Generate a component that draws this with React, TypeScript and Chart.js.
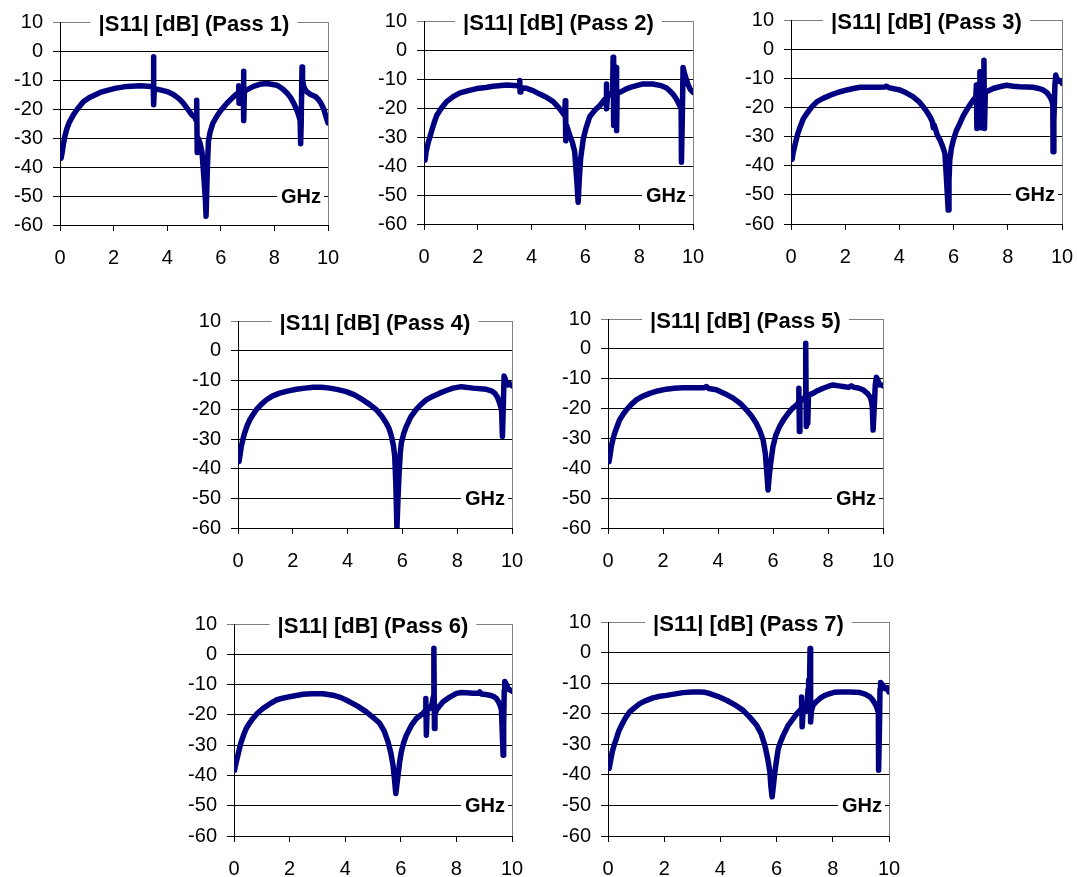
import React, { useEffect, useRef } from 'react';
import { Chart, registerables } from 'chart.js';

Chart.register(...registerables);

const FONT = '"Liberation Sans", Arial, sans-serif';

// Tick values / labels
const yTickValues = [-60, -50, -40, -30, -20, -10, 0, 10];
const xTickValues = [0, 2, 4, 6, 8, 10];
const passTitles = [
  '|S11| [dB] (Pass 1)',
  '|S11| [dB] (Pass 2)',
  '|S11| [dB] (Pass 3)',
  '|S11| [dB] (Pass 4)',
  '|S11| [dB] (Pass 5)',
  '|S11| [dB] (Pass 6)',
  '|S11| [dB] (Pass 7)',
];
const unitLabel = 'GHz';

// ---- Pass 1 ----
const pass1Freq = [0.04, 0.08, 0.12, 0.18, 0.25, 0.35, 0.5, 0.65, 0.87, 1.1, 1.5, 1.8, 2.1, 2.5, 3.0, 3.4, 3.48, 3.49, 3.5, 3.52, 3.74, 4.0, 4.23, 4.45, 4.6, 4.8, 4.92, 5.04, 5.08, 5.1, 5.12, 5.15, 5.23, 5.3, 5.38, 5.43, 5.45, 5.5, 5.54, 5.6, 5.7, 5.85, 6.0, 6.23, 6.45, 6.6, 6.65, 6.67, 6.68, 6.7, 6.8, 6.84, 6.85, 6.86, 6.88, 6.97, 7.22, 7.45, 7.72, 8.1, 8.3, 8.47, 8.6, 8.72, 8.82, 8.9, 8.96, 8.98, 9.0, 9.03, 9.05, 9.1, 9.2, 9.35, 9.53, 9.65, 9.75, 9.84, 9.92, 10.0];
const pass1S11 = [-37, -35, -32.5, -29.5, -27, -24.5, -22, -20, -17.5, -16, -14.3, -13.5, -12.8, -12.2, -12, -12.2, -12.5, -2, -18.5, -13, -13.4, -14, -15, -16.5, -18, -20.5, -22, -23, -24, -17, -35, -30, -32, -35, -45, -52, -57, -40, -31, -28, -25, -22.5, -20.5, -18, -16, -14.8, -14.5, -12, -18, -14, -13.8, -13.5, -7, -24, -14, -13.4, -12.2, -11.5, -11.2, -11.8, -13, -14.5, -16, -18, -20, -22, -24, -32, -25, -5.5, -10, -12.5, -14, -15, -15.7, -16.8, -18.2, -20, -22.5, -24.8];

// ---- Pass 2 ----
const pass2Freq = [0.04, 0.08, 0.16, 0.22, 0.28, 0.38, 0.47, 0.65, 0.84, 1.1, 1.34, 1.65, 1.96, 2.3, 2.57, 3.07, 3.5, 3.55, 3.56, 3.57, 3.6, 3.81, 4.05, 4.3, 4.55, 4.8, 5.0, 5.1, 5.23, 5.25, 5.27, 5.3, 5.42, 5.52, 5.6, 5.68, 5.73, 5.77, 5.82, 5.92, 6.02, 6.16, 6.35, 6.53, 6.72, 6.77, 6.78, 6.79, 6.82, 6.95, 7.01, 7.03, 7.05, 7.08, 7.13, 7.15, 7.16, 7.18, 7.28, 7.52, 7.7, 7.9, 8.14, 8.5, 8.82, 9.0, 9.13, 9.28, 9.38, 9.5, 9.56, 9.57, 9.6, 9.63, 9.68, 9.75, 9.82, 9.9, 10.0];
const pass2S11 = [-38, -35, -31.8, -30, -28, -25, -22.6, -20, -17.8, -16, -14.8, -14, -13.3, -12.9, -12.5, -12.1, -12.3, -12.5, -10.5, -14.5, -13, -13.2, -14, -15.2, -16.3, -17.8, -19.8, -21, -22.6, -17.5, -31.3, -26, -29.5, -32, -35, -45, -52.5, -45, -37.6, -30.7, -27, -23, -20.8, -19.2, -17, -16.5, -11.7, -20.3, -16, -15, -14.5, -2.5, -26, -14, -13, -6, -27.8, -15, -14.6, -13.4, -12.8, -12.3, -11.7, -11.7, -12.3, -13, -14, -15.5, -16.9, -19, -20, -38.7, -25, -6, -8, -10, -12, -13.6, -14.6];

// ---- Pass 3 ----
const pass3Freq = [0.04, 0.08, 0.16, 0.25, 0.34, 0.45, 0.59, 0.75, 0.96, 1.2, 1.45, 1.75, 2.06, 2.3, 2.55, 3.17, 3.45, 3.53, 3.6, 4.02, 4.25, 4.5, 4.7, 4.88, 5.0, 5.13, 5.22, 5.25, 5.28, 5.4, 5.5, 5.6, 5.68, 5.74, 5.8, 5.83, 5.86, 5.92, 5.99, 6.1, 6.23, 6.35, 6.48, 6.6, 6.72, 6.82, 6.84, 6.86, 6.88, 6.95, 6.97, 6.99, 7.02, 7.1, 7.12, 7.14, 7.17, 7.21, 7.46, 7.7, 7.95, 8.2, 8.44, 8.7, 8.93, 9.1, 9.3, 9.45, 9.55, 9.63, 9.66, 9.67, 9.7, 9.74, 9.77, 9.82, 9.88, 9.94, 10.0];
const pass3S11 = [-37.8, -35.5, -32.3, -29, -26.6, -24, -22, -20, -18, -16.8, -15.8, -14.8, -14, -13.5, -13.1, -13.1, -13, -12.7, -13.2, -14, -15, -16.3, -17.8, -19.8, -21.3, -23.2, -25, -27, -26, -29.5, -31.2, -33.5, -35.8, -45, -55.2, -45, -38, -34, -31.2, -28, -25.5, -23, -20.9, -19.2, -17.5, -16.5, -12.3, -27.2, -17, -15, -7.8, -27, -15, -14.5, -3.8, -27.2, -15, -14.6, -13.5, -12.9, -12.4, -12.7, -12.9, -13, -13.1, -13.4, -14, -15, -16.3, -17.8, -19, -35.2, -25, -12, -8.9, -10.3, -11, -10.8, -11.7];

// ---- Pass 4 ----
const pass4Freq = [0.04, 0.08, 0.12, 0.18, 0.24, 0.33, 0.43, 0.55, 0.67, 0.85, 1.03, 1.25, 1.52, 1.8, 2.13, 2.45, 2.74, 3.05, 3.35, 3.65, 3.95, 4.25, 4.56, 4.8, 5.05, 5.25, 5.41, 5.52, 5.6, 5.67, 5.72, 5.76, 5.8, 5.84, 5.88, 5.92, 5.96, 6.05, 6.14, 6.3, 6.5, 6.68, 6.87, 7.1, 7.36, 7.6, 7.85, 8.15, 8.58, 9.06, 9.25, 9.37, 9.47, 9.55, 9.62, 9.65, 9.68, 9.71, 9.75, 9.8, 9.85, 9.92, 10.0];
const pass4S11 = [-37.5, -35, -32.4, -30, -27.9, -25.5, -23.4, -21.6, -20, -18.2, -16.7, -15.4, -14.4, -13.7, -13.1, -12.7, -12.4, -12.4, -12.7, -13.2, -13.9, -15, -16.7, -18.2, -20, -22.2, -24.5, -26.5, -29, -32, -35.7, -45, -60, -50, -41.4, -35, -31.3, -28, -25.7, -22.5, -20, -18.2, -16.7, -15.5, -14.4, -13.5, -12.7, -12.2, -12.7, -13.1, -13.6, -14.4, -15.8, -17.8, -20, -29, -20, -8.6, -9.5, -11, -11.6, -11.2, -11.9];

// ---- Pass 5 ----
const pass5Freq = [0.04, 0.08, 0.12, 0.18, 0.24, 0.33, 0.42, 0.55, 0.67, 0.85, 1.03, 1.25, 1.52, 1.8, 2.12, 2.4, 2.73, 3.33, 3.5, 3.58, 3.66, 3.94, 4.25, 4.55, 4.8, 5.03, 5.22, 5.39, 5.52, 5.64, 5.72, 5.78, 5.82, 5.86, 5.9, 6.0, 6.1, 6.24, 6.4, 6.55, 6.7, 6.85, 6.93, 6.94, 6.96, 6.98, 7.03, 7.12, 7.18, 7.19, 7.21, 7.24, 7.26, 7.27, 7.29, 7.45, 7.62, 7.82, 8.0, 8.18, 8.4, 8.55, 8.75, 8.85, 8.95, 9.1, 9.27, 9.42, 9.52, 9.58, 9.61, 9.64, 9.68, 9.72, 9.76, 9.8, 9.88, 9.94, 10.0];
const pass5S11 = [-37.8, -35.3, -32.7, -30.3, -28.3, -26, -23.8, -21.9, -20.4, -18.6, -17.1, -15.9, -14.9, -14.1, -13.5, -13.2, -13, -13, -13, -12.6, -13.3, -13.7, -15, -16.5, -18.2, -20.4, -22.5, -24.9, -27.4, -30.5, -35, -42, -47.3, -43, -39.4, -32.7, -29, -26, -23.5, -21.6, -20, -18.8, -18, -13.2, -27.7, -18, -17, -16.5, -16, 1.9, -26, -16, -15.5, -24.9, -15.5, -14.9, -14, -13.2, -12.6, -12.1, -12.4, -12.6, -12.9, -12.4, -12.9, -13.1, -13.7, -14.8, -16, -17.5, -19.3, -27.2, -20, -12, -9.5, -10.2, -12.1, -12, -12.4];

// ---- Pass 6 ----
const pass6Freq = [0.02, 0.07, 0.14, 0.2, 0.26, 0.35, 0.44, 0.56, 0.68, 0.85, 1.04, 1.28, 1.52, 1.75, 2.0, 2.24, 2.48, 2.8, 3.2, 3.56, 3.85, 4.16, 4.46, 4.76, 5.0, 5.24, 5.4, 5.54, 5.64, 5.72, 5.77, 5.82, 5.86, 5.9, 5.96, 6.02, 6.1, 6.2, 6.38, 6.56, 6.7, 6.8, 6.88, 6.9, 6.92, 6.95, 7.04, 7.12, 7.17, 7.19, 7.21, 7.23, 7.28, 7.4, 7.52, 7.75, 8.0, 8.18, 8.36, 8.6, 8.8, 8.84, 8.9, 9.05, 9.2, 9.35, 9.44, 9.52, 9.58, 9.62, 9.68, 9.7, 9.72, 9.74, 9.8, 9.86, 9.93, 10.0];
const pass6S11 = [-38.3, -36, -33.3, -31, -28.9, -26.5, -24.5, -22.7, -21.2, -19.4, -17.9, -16.4, -15.1, -14.5, -14, -13.6, -13.2, -13, -13, -13.5, -14.3, -15.7, -17.2, -19, -20.8, -22.8, -25.3, -28.9, -32.5, -36.6, -41, -46, -43, -40, -35.5, -32.2, -29.3, -26.7, -23.5, -21.2, -20.2, -19.5, -18.5, -14.6, -26.7, -17.5, -17.9, -16.5, -14, 2, -24.5, -20, -18.4, -17, -15.7, -14.2, -12.9, -12.6, -12.7, -12.9, -12.9, -12.4, -13.1, -13.3, -13.5, -14, -14.6, -15.8, -17, -18.4, -33.3, -24, -12, -9, -10, -11.3, -11.8, -12.2];

// ---- Pass 7 ----
const pass7Freq = [0.04, 0.09, 0.15, 0.22, 0.3, 0.38, 0.48, 0.62, 0.77, 0.95, 1.13, 1.35, 1.6, 1.85, 2.08, 2.4, 2.67, 3.0, 3.27, 3.45, 3.62, 3.9, 4.22, 4.5, 4.81, 5.05, 5.29, 5.45, 5.58, 5.68, 5.76, 5.8, 5.84, 5.88, 5.94, 6.0, 6.06, 6.15, 6.24, 6.4, 6.59, 6.72, 6.83, 6.87, 6.89, 6.91, 6.94, 7.01, 7.08, 7.12, 7.13, 7.15, 7.17, 7.19, 7.21, 7.24, 7.3, 7.42, 7.54, 7.7, 7.9, 8.05, 8.25, 8.6, 8.97, 9.15, 9.32, 9.42, 9.5, 9.56, 9.6, 9.62, 9.63, 9.66, 9.68, 9.7, 9.76, 9.86, 9.93, 10.0];
const pass7S11 = [-37.9, -35.5, -32.5, -30.2, -28.1, -25.8, -23.8, -21.4, -19.4, -18, -16.7, -15.7, -14.8, -14.3, -14, -13.5, -13.1, -12.9, -12.9, -13, -13.4, -14.3, -15.6, -17, -18.9, -21.2, -23.8, -26.5, -30.3, -34.5, -39, -44, -47.2, -44, -39, -35, -31.4, -29, -27, -24, -21.6, -20, -18.9, -18.5, -14.5, -24.3, -19.5, -19.4, -18, -12, -9, -15, -12, 1.3, -22.7, -19, -17.2, -16, -15, -14.1, -13.4, -13, -12.9, -12.9, -13.1, -13.6, -14.5, -15.5, -16.7, -17.8, -19, -19.4, -38.5, -25, -12, -9.8, -10.5, -11.8, -11.5, -12.9];

const passFreqs = [pass1Freq, pass2Freq, pass3Freq, pass4Freq, pass5Freq, pass6Freq, pass7Freq];
const passValues = [pass1S11, pass2S11, pass3S11, pass4S11, pass5S11, pass6S11, pass7S11];

// Plot-area placement (page pixels): left, top, right, bottom
const plotAreas = [
  { l: 60, t: 22, r: 328, b: 225 },
  { l: 424, t: 21, r: 693, b: 224 },
  { l: 791, t: 20, r: 1062, b: 224 },
  { l: 238, t: 321, r: 512, b: 528 },
  { l: 608, t: 319, r: 883, b: 528 },
  { l: 234, t: 624, r: 512, b: 836 },
  { l: 608, t: 622, r: 889, b: 836 },
];

const PAD_T = 22;
const PAD_R = 15;
const Y_W = 60;
const X_H = 48;

const overlayPlugin = {
  id: 'overlayLabels',
  afterDraw(chart: any, _args: any, opts: any) {
    const { ctx, chartArea } = chart;
    const yScale = chart.scales.y;
    ctx.save();
    // Title on the top border
    ctx.font = `bold 22px ${FONT}`;
    ctx.textAlign = 'center';
    ctx.textBaseline = 'middle';
    const title = opts.title || '';
    const tw = ctx.measureText(title).width;
    const cx = (chartArea.left + chartArea.right) / 2;
    const cy = chartArea.top + 3;
    ctx.fillStyle = '#fff';
    ctx.fillRect(cx - tw / 2 - 8, cy - 14, tw + 16, 28);
    ctx.fillStyle = '#000';
    ctx.fillText(title, cx, cy);
    // Unit label on the -50 line
    ctx.font = `bold 20px ${FONT}`;
    ctx.textAlign = 'right';
    const uy = yScale.getPixelForValue(-50) + 1;
    const ux = chartArea.right - 7;
    const uw = ctx.measureText(opts.unit).width;
    ctx.fillStyle = '#fff';
    ctx.fillRect(ux - uw - 4, uy - 11, uw + 7, 22);
    ctx.fillStyle = '#000';
    ctx.fillText(opts.unit, ux, uy);
    ctx.restore();
  },
};

function SmallChart({ index }: { index: number }) {
  const ref = useRef<HTMLCanvasElement>(null);
  const area = plotAreas[index];
  const w = area.r - area.l + Y_W + PAD_R;
  const h = area.b - area.t + PAD_T + X_H;

  useEffect(() => {
    const freq = passFreqs[index];
    const vals = passValues[index];
    const points = freq.map((f, i) => ({ x: f, y: vals[i] }));
    const chart = new Chart(ref.current as HTMLCanvasElement, {
      type: 'line',
      data: {
        datasets: [
          {
            data: points,
            borderColor: '#000080',
            backgroundColor: '#000080',
            borderWidth: 5.5,
            pointRadius: 0,
            tension: 0,
            borderJoinStyle: 'round',
            borderCapStyle: 'round',
            fill: false,
          } as any,
        ],
      },
      options: {
        responsive: false,
        animation: false,
        devicePixelRatio: 1,
        layout: { padding: { top: PAD_T, right: PAD_R, left: 0, bottom: 0 } },
        plugins: {
          legend: { display: false },
          tooltip: { enabled: false },
          overlayLabels: { title: passTitles[index], unit: unitLabel },
        } as any,
        scales: {
          x: {
            type: 'linear',
            min: 0,
            max: 10,
            afterBuildTicks: (s: any) => {
              s.ticks = xTickValues.map((v) => ({ value: v }));
            },
            afterFit: (s: any) => {
              s.height = X_H;
              s.paddingLeft = 0;
              s.paddingRight = 0;
              s.paddingTop = 0;
              s.paddingBottom = 0;
            },
            ticks: {
              font: { family: FONT, size: 20 },
              color: '#000',
              padding: 15,
              maxRotation: 0,
              autoSkip: false,
            },
            grid: {
              color: (c: any) => (c.tick && c.tick.value === 10 ? '#808080' : 'rgba(0,0,0,0)'),
              tickColor: '#000',
              tickLength: 6,
              lineWidth: 1,
            },
            border: { color: '#000', width: 1 },
          },
          y: {
            type: 'linear',
            min: -60,
            max: 10,
            afterBuildTicks: (s: any) => {
              s.ticks = yTickValues.map((v) => ({ value: v }));
            },
            afterFit: (s: any) => {
              s.width = Y_W;
              s.paddingLeft = 0;
              s.paddingRight = 0;
              s.paddingTop = 0;
              s.paddingBottom = 0;
            },
            ticks: {
              font: { family: FONT, size: 20 },
              color: '#000',
              padding: 10,
            },
            grid: {
              color: (c: any) => (c.tick && c.tick.value === 10 ? '#808080' : '#000'),
              tickColor: (c: any) => (c.tick && c.tick.value === 10 ? '#808080' : '#000'),
              tickLength: 7,
              lineWidth: 1,
            },
            border: { color: '#000', width: 1 },
          },
        },
      } as any,
      plugins: [overlayPlugin as any],
    });
    return () => chart.destroy();
  }, [index]);

  return (
    <canvas
      ref={ref}
      width={w}
      height={h}
      style={{
        position: 'absolute',
        left: area.l - Y_W,
        top: area.t - PAD_T,
        width: w,
        height: h,
      }}
    />
  );
}

export default function App() {
  return (
    <div
      style={{
        position: 'absolute',
        left: 0,
        top: 0,
        width: 1077,
        height: 877,
        overflow: 'hidden',
        background: '#fff',
      }}
    >
      {plotAreas.map((_, i) => (
        <SmallChart key={i} index={i} />
      ))}
    </div>
  );
}
